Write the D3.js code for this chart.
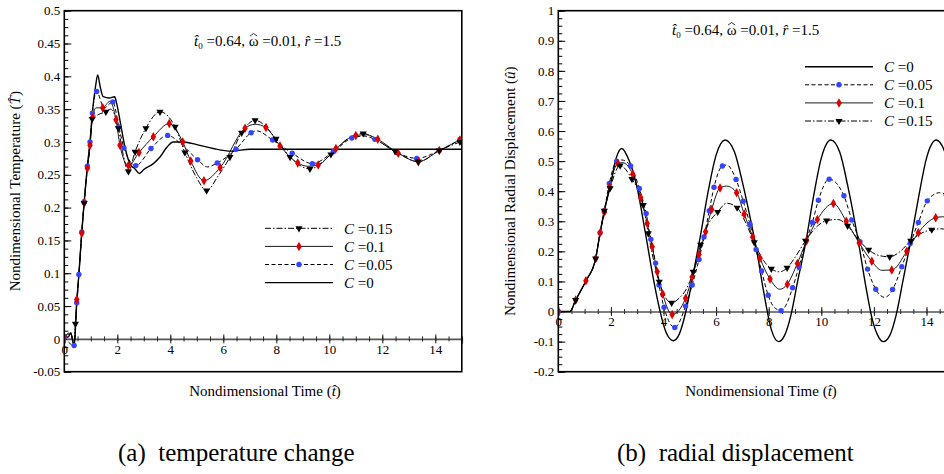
<!DOCTYPE html>
<html>
<head>
<meta charset="utf-8">
<script src="https://cdn.jsdelivr.net/npm/d3@7"></script>
<style>
  body { margin: 0; background: #fff; }
  text { font-family: "Liberation Serif", "Times New Roman", serif; }
</style>
</head>
<body>
<script>
// values: [time, value, (0 = no marker)]
const seriesLabels = ["0", "0.05", "0.1", "0.15"];
const xTickLabels = ["0", "2", "4", "6", "8", "10", "12", "14"];
const tempTickLabels = ["-0.05", "0", "0.05", "0.1", "0.15", "0.2", "0.25", "0.3", "0.35", "0.4", "0.45", "0.5"];
const dispTickLabels = ["-0.2", "-0.1", "0", "0.1", "0.2", "0.3", "0.4", "0.5", "0.6", "0.7", "0.8", "0.9", "1"];

// (a) temperature
const tempC0 = [[0,0.002],[0.15,0.003],[0.24,0.009],[0.37,-0.01],[0.47,0.055],[0.55,0.098],[0.66,0.163],[0.75,0.209],
  [0.87,0.263],[0.97,0.30],[1.06,0.345],[1.18,0.385],[1.26,0.402],[1.36,0.383],[1.47,0.369],[1.7,0.367],[1.9,0.369],
  [1.98,0.358],[2.1,0.333],[2.3,0.29],[2.5,0.265],[2.67,0.259],[2.83,0.252],[3.0,0.258],[3.36,0.267],[3.61,0.277],
  [3.87,0.292],[4.11,0.300],[4.5,0.300],[5.0,0.296],[5.62,0.290],[6.3,0.286],[7.0,0.289],[8.0,0.289],[15,0.289]];
const tempC005 = [[0,0.003],[0.37,-0.01],[0.47,0.055],[0.55,0.098],[0.66,0.163],[0.75,0.209],[0.87,0.263],[0.97,0.30],
  [1.06,0.344],[1.22,0.377],[1.5,0.352,0],[1.83,0.361],[2.06,0.323],[2.25,0.291],[2.70,0.264],[3.27,0.290],[3.90,0.310],
  [4.4,0.297,0],[5.03,0.273],[5.4,0.262,0],[5.77,0.268],[6.48,0.289],[7.05,0.314],[7.25,0.317,0],[7.86,0.303],
  [8.6,0.283],[9.36,0.267],[10.15,0.285],[10.85,0.306],[11.3,0.309,0],[11.72,0.304],[12.54,0.284],[13.3,0.275],
  [14.15,0.287],[14.93,0.304]];
const tempC01 = [[0,0.003],[0.24,0.008,0],[0.37,-0.01,0],[0.47,0.06],[0.55,0.098,0],[0.66,0.161],[0.75,0.207],[0.87,0.26],
  [0.97,0.295],[1.07,0.338],[1.2,0.352,0],[1.45,0.352],[1.72,0.362,0],[1.95,0.334],[2.10,0.295],[2.42,0.264],[2.82,0.284],
  [3.36,0.308],[3.96,0.328],[4.47,0.300],[4.77,0.271],[5.27,0.241],[5.88,0.261],[6.82,0.321],[7.2,0.327,0],[7.61,0.322],
  [8.14,0.294],[8.81,0.268],[9.2,0.263,0],[9.58,0.265],[10.25,0.290],[11.0,0.310],[11.4,0.311,0],[11.83,0.304],
  [12.6,0.283],[13.36,0.270],[14.15,0.287],[14.93,0.303]];
const tempC015 = [[0,0.003,0],[0.24,0.01,0],[0.37,-0.008,0],[0.42,0.023],[0.55,0.098,0],[0.66,0.163,0],[0.75,0.207],
  [0.87,0.258,0],[0.97,0.292,0],[1.05,0.335],[1.3,0.342,0],[1.57,0.346],[1.75,0.35,0],[2.04,0.321],[2.2,0.285,0],
  [2.42,0.255],[2.67,0.285],[3.08,0.321],[3.61,0.346],[4.18,0.323],[4.55,0.284],[5.0,0.245,0],[5.37,0.226],[5.8,0.248,0],
  [6.25,0.277],[6.69,0.314],[7.2,0.333],[7.99,0.305],[8.52,0.277],[9.27,0.259],[10.06,0.281],[10.7,0.305,0],[11.28,0.313],
  [11.9,0.30,0],[12.48,0.286],[13.36,0.270],[14.15,0.287],[14.93,0.300]];

// (b) radial displacement
const dispC0 = [[0,0],[0.44,0],[0.66,0.038],[1.05,0.102],[1.42,0.176],[1.59,0.262],[1.75,0.335],[1.97,0.415],[2.2,0.51],
  [2.41,0.542],[2.7,0.50],[3.0,0.41],[3.3,0.267],[3.6,0.116],[3.85,0.008],[4.1,-0.07],[4.37,-0.097],[4.6,-0.075],
  [4.85,0.0],[5.1,0.11],[5.4,0.25],[5.7,0.40],[6.0,0.52],[6.34,0.57],[6.7,0.53],[7.0,0.43],[7.3,0.31],[7.55,0.20],
  [7.8,0.07],[8.1,-0.06],[8.37,-0.10],[8.6,-0.08],[8.85,-0.01],[9.1,0.10],[9.42,0.235],[9.7,0.38],[10.0,0.51],
  [10.36,0.57],[10.7,0.53],[11.0,0.42],[11.4,0.237],[11.7,0.08],[11.95,-0.03],[12.15,-0.08],[12.36,-0.10],[12.6,-0.08],
  [12.85,-0.01],[13.1,0.10],[13.4,0.235],[13.7,0.38],[14.0,0.51],[14.37,0.57],[14.7,0.53],[15,0.43]];
const dispC005 = [[0,0],[0.44,0,0],[0.66,0.038,0],[1.05,0.102,0],[1.42,0.176,0],[1.59,0.262],[1.75,0.335],[1.94,0.426],
  [2.22,0.50],[2.4,0.504,0],[2.75,0.484],[3.08,0.409],[3.34,0.326],[3.52,0.24],[3.7,0.161],[3.83,0.088],[4.02,0.014],
  [4.43,-0.053],[4.84,0.018],[5.09,0.088],[5.35,0.173],[5.54,0.248],[5.74,0.335],[5.92,0.413],[6.24,0.484],[6.4,0.487,0],
  [6.76,0.439],[7.03,0.367],[7.29,0.29],[7.52,0.206],[7.73,0.135],[7.98,0.054],[8.2,0.015,0],[8.47,0.003],[8.91,0.079],
  [9.15,0.149],[9.42,0.235,0],[9.66,0.296],[9.89,0.37],[10.3,0.44],[10.86,0.385],[11.16,0.304],[11.47,0.232],
  [11.76,0.141],[12.07,0.074],[12.42,0.047,0],[12.71,0.073],[13.06,0.149],[13.38,0.226],[13.69,0.296],[14.03,0.368],
  [14.5,0.395,0],[14.75,0.388],[15,0.37,0]];
const dispC01 = [[0,0],[0.44,0,0],[0.66,0.038],[1.05,0.102],[1.42,0.176],[1.59,0.262],[1.75,0.330],[1.95,0.415],
  [2.26,0.492],[2.45,0.495,0],[2.83,0.456],[3.13,0.379],[3.38,0.293],[3.57,0.215],[3.76,0.132],[3.97,0.058],[4.33,-0.01],
  [4.84,0.044],[5.09,0.115],[5.35,0.19],[5.60,0.265],[5.83,0.339],[6.15,0.411],[6.4,0.417,0],[6.78,0.395],[7.07,0.324],
  [7.39,0.248],[7.67,0.177],[8.05,0.108],[8.42,0.074,0],[8.71,0.091],[9.09,0.16],[9.44,0.235],[9.85,0.306],[10.46,0.359],
  [10.95,0.30],[11.44,0.228],[11.92,0.167],[12.3,0.137,0],[12.68,0.138],[13.25,0.2],[13.69,0.262],[14.35,0.312],
  [14.6,0.315,0],[15,0.305,0]];
const dispC015 = [[0,0,0],[0.44,0,0],[0.66,0.038],[1.05,0.102,0],[1.42,0.176],[1.59,0.262,0],[1.75,0.335],[1.97,0.41],
  [2.35,0.485],[2.8,0.44],[3.23,0.354],[3.42,0.26],[3.6,0.18,0],[3.84,0.099],[4.05,0.05,0],[4.31,0.029],[4.6,0.045,0],
  [4.9,0.08,0],[5.13,0.132],[5.41,0.222],[5.7,0.29,0],[6.06,0.331],[6.4,0.36,0],[6.8,0.345],[7.1,0.30,0],[7.45,0.23],
  [7.8,0.17,0],[8.1,0.142],[8.4,0.132,0],[8.7,0.145],[9.0,0.18,0],[9.4,0.235],[9.8,0.28,0],[10.2,0.302],[10.62,0.306,0],
  [11.0,0.285],[11.4,0.24,0],[11.8,0.205],[12.2,0.186,0],[12.6,0.182],[13.0,0.2,0],[13.4,0.235],[13.8,0.26,0],
  [14.2,0.272],[14.55,0.275,0],[15,0.265,0]];

const width = 944, height = 474;
const BLUE = "#3344ff", RED = "#dd0000";
const TOP = 10.7, BOTTOM = 371.7;

let svg = d3.select("body").append("svg")
  .attr("width", width)
  .attr("height", height);
svg.append("rect").attr("width", width).attr("height", height).attr("fill", "#fff");

// line style per C value (same order as seriesLabels)
const styles = [
  {dash: null, sw: 1.4, mark: null},
  {dash: "4,2.5", sw: 1, mark: "circle"},
  {dash: null, sw: 0.9, mark: "diamond"},
  {dash: "6,2,1.5,2", sw: 1, mark: "triangle"}
];

let drawMarker = (sel, kind, cx, cy) => {
  if (kind === "circle") {
    sel.append("circle").attr("cx", cx).attr("cy", cy).attr("r", 2.7).attr("fill", BLUE);
  } else if (kind === "diamond") {
    sel.append("path").attr("d", d3.symbol(d3.symbolDiamond, 26)())
      .attr("transform", `translate(${cx},${cy})`).attr("fill", RED);
  } else if (kind === "triangle") {
    sel.append("path").attr("d", d3.symbol(d3.symbolTriangle, 22)())
      .attr("transform", `translate(${cx},${cy}) rotate(180)`).attr("fill", "#000");
  }
};

let drawPanel = (opt) => {
  const x = d3.scaleLinear().domain([0, 15]).range([opt.left, opt.left + 15 * opt.kx]);
  const y = d3.scaleLinear().domain(opt.yDomain).range([BOTTOM, TOP]);
  const g = svg.append("g");
  const id = "clip" + opt.name;

  g.append("clipPath").attr("id", id).append("rect")
    .attr("x", x(0)).attr("y", TOP).attr("width", x(15) - x(0)).attr("height", BOTTOM - TOP);

  // y axis: inward ticks, labels on the left
  const yVals = opt.yLabels.map(s => +s);
  g.append("g").attr("transform", `translate(${x(0)},0)`)
    .call(d3.axisLeft(y).tickValues(yVals).tickSizeInner(-7).tickSizeOuter(0).tickPadding(4)
      .tickFormat((d, i) => opt.yLabels[i]))
    .call(a => a.select(".domain").remove())
    .attr("font-size", 13).attr("color", "#000");
  g.append("g").attr("transform", `translate(${x(0)},0)`)
    .call(d3.axisLeft(y).tickValues(d3.range(opt.yDomain[0], opt.yDomain[1] + 1e-9, opt.yMinor))
      .tickSizeInner(-4).tickSizeOuter(0).tickFormat(""))
    .call(a => a.select(".domain").remove())
    .attr("color", "#000");

  // x axis sits on the zero line, ticks on both sides
  const xVals = xTickLabels.map(s => +s);
  const xMinor = d3.range(0, 15.01, 0.5);
  const xa = g.append("g").attr("transform", `translate(0,${y(0)})`).attr("color", "#555");
  xa.append("g").call(d3.axisBottom(x).tickValues(xVals).tickSize(4.5).tickPadding(1)
      .tickFormat((d, i) => xTickLabels[i]))
    .attr("font-size", 13)
    .call(a => a.select(".domain").attr("stroke-width", 1.6))
    .call(a => a.selectAll("text").attr("fill", "#000"));
  xa.append("g").call(d3.axisTop(x).tickValues(xVals).tickSize(4.5).tickFormat(""))
    .call(a => a.select(".domain").remove());
  xa.append("g").call(d3.axisBottom(x).tickValues(xMinor).tickSize(2.5).tickFormat(""))
    .call(a => a.select(".domain").remove());
  xa.append("g").call(d3.axisTop(x).tickValues(xMinor).tickSize(2.5).tickFormat(""))
    .call(a => a.select(".domain").remove());
  xa.selectAll(".tick line").attr("stroke", "#222");

  // curves
  let line = d3.line().x(d => x(d[0])).y(d => y(d[1])).curve(d3.curveMonotoneX);
  const plot = g.append("g").attr("clip-path", `url(#${id})`);
  opt.series.forEach((data, i) => {
    const st = styles[i];
    plot.append("path")
      .attr("d", line(data))
      .attr("fill", "none")
      .attr("stroke", "#000")
      .attr("stroke-width", st.sw)
      .attr("stroke-dasharray", st.dash);
  });
  opt.series.forEach((data, i) => {
    const st = styles[i];
    if (!st.mark) return;
    data.filter(d => d[2] !== 0).forEach(d => drawMarker(plot, st.mark, x(d[0]), y(d[1])));
  });

  // frame
  g.append("rect")
    .attr("x", x(0)).attr("y", TOP)
    .attr("width", x(15) - x(0)).attr("height", BOTTOM - TOP)
    .attr("fill", "none").attr("stroke", "#000").attr("stroke-width", 1.6);

  // parameter note; the omega hat is drawn as a small stroke since the font has no combining mark for it
  const ann = g.append("text").attr("x", opt.annX).attr("y", opt.annY).attr("font-size", 15);
  ann.append("tspan").attr("font-style", "italic").text("t\u0302");
  ann.append("tspan").attr("font-size", 9).attr("dy", 3).text("0");
  ann.append("tspan").attr("dy", -3).text(" =0.64, ");
  ann.append("tspan").text("\u03c9");
  ann.append("tspan").text(" =0.01, ");
  ann.append("tspan").attr("font-style", "italic").text("r\u0302");
  ann.append("tspan").text(" =1.5");
  const full = ann.node();
  const oi = full.textContent.indexOf("\u03c9");
  const hx = (full.getStartPositionOfChar(oi).x + full.getEndPositionOfChar(oi).x) / 2;
  g.append("path")
    .attr("d", `M${hx - 3.5},${opt.annY - 10} L${hx},${opt.annY - 12.5} L${hx + 3.5},${opt.annY - 10}`)
    .attr("fill", "none").attr("stroke", "#000").attr("stroke-width", 0.8);

  // legend
  opt.legOrder.forEach((si, k) => {
    const yy = opt.legY + k * 18.1;
    const st = styles[si];
    g.append("line")
      .attr("x1", opt.legX).attr("x2", opt.legX + 68)
      .attr("y1", yy).attr("y2", yy)
      .attr("stroke", "#000").attr("stroke-width", st.sw)
      .attr("stroke-dasharray", st.dash);
    drawMarker(g, st.mark, opt.legX + 34, yy);
    const t = g.append("text").attr("x", opt.legX + 79).attr("y", yy).attr("dy", "0.35em").attr("font-size", 15);
    t.append("tspan").attr("font-style", "italic").text("C");
    t.append("tspan").text(" =" + seriesLabels[si]);
  });

  // axis titles
  const yt = g.append("text")
    .attr("transform", `translate(${opt.yTitleX},${(TOP + BOTTOM) / 2}) rotate(-90)`)
    .attr("text-anchor", "middle").attr("dy", "0.35em").attr("font-size", 15);
  yt.append("tspan").text(opt.yTitle + " (");
  yt.append("tspan").attr("font-style", "italic").text(opt.yVar);
  yt.append("tspan").text(")");

  const xt = g.append("text")
    .attr("x", opt.xTitleX).attr("y", 396)
    .attr("text-anchor", "middle").attr("font-size", 15);
  xt.append("tspan").text("Nondimensional Time (");
  xt.append("tspan").attr("font-style", "italic").text("t\u0302");
  xt.append("tspan").text(")");

  g.append("text")
    .attr("x", opt.capX).attr("y", 461)
    .attr("font-size", 25)
    .style("white-space", "pre")
    .text(opt.caption);
};

drawPanel({
  name: "a", left: 64.3, kx: 26.5,
  yDomain: [-0.05, 0.5], yMinor: 0.0125, yLabels: tempTickLabels,
  series: [tempC0, tempC005, tempC01, tempC015],
  annX: 194, annY: 46,
  legX: 265, legY: 228.3, legOrder: [3, 2, 1, 0],
  yTitleX: 15, yTitle: "Nondimensional Temperature", yVar: "T\u0302",
  xTitleX: 265, capX: 118, caption: "(a)  temperature change"
});

drawPanel({
  name: "b", left: 558.3, kx: 26.3,
  yDomain: [-0.2, 1], yMinor: 0.025, yLabels: dispTickLabels,
  series: [dispC0, dispC005, dispC01, dispC015],
  annX: 672, annY: 35,
  legX: 805, legY: 66.7, legOrder: [0, 1, 2, 3],
  yTitleX: 510, yTitle: "Nondimensional Radial Displacement", yVar: "u\u0302",
  xTitleX: 761, capX: 617, caption: "(b)  radial displacement"
});
</script>
</body>
</html>
